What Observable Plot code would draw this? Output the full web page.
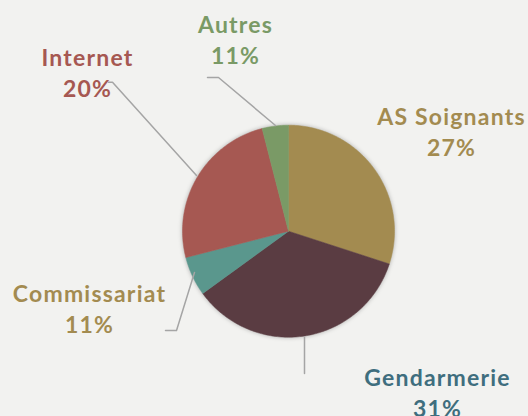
<!DOCTYPE html>
<html>
<head>
<meta charset="utf-8">
<script src="https://cdn.jsdelivr.net/npm/d3@7"></script>
<script src="https://cdn.jsdelivr.net/npm/@observablehq/plot@0.6"></script>
<style>
  html, body { margin: 0; padding: 0; background: #f2f2f0; }
  #chart svg { display: block; background: #f2f2f0; }
  g[aria-description="pie"] { filter: drop-shadow(0px 0px 2px rgba(0,0,0,0.28)); }
</style>
</head>
<body>
<div id="chart"></div>
<script>
// ---- data ----
const categories = ["AS Soignants", "Gendarmerie", "Commissariat", "Internet", "Autres"];
const sliceValues = [30, 35, 6, 25, 4];          // slice sizes as drawn
const percentLabels = ["27%", "31%", "11%", "20%", "11%"]; // label texts as printed

// ---- styles / layout ----
const sliceColors = ["#a38b50", "#5a3c42", "#5a978d", "#a65852", "#7a9a66"];
const labelColors = ["#a38b50", "#3f6e7e", "#a38b50", "#a65852", "#7a9a66"];
const W = 528, H = 416;
const cx = 288, cy = 230.7, R = 106;
// label anchor (center x, baseline of first line)
const labelPos = [[451, 124.5], [437, 385], [89, 301], [87, 65], [235, 32.3]];
const lineGap = 31;
// leader lines (polyline points)
const leaders = [
  [[304, 337], [304, 373]],
  [[165, 330], [176, 330], [194, 272]],
  [[108, 81.7], [112, 81.7], [196, 175]],
  [[207, 77], [218, 77], [275, 125]]
];

// build pie geometry from data with d3.pie
const arcs = d3.pie().sort(null).value(d => d.value)(
  categories.map((c, i) => ({category: c, value: sliceValues[i], color: sliceColors[i]}))
);
function slicePoints(a) {
  const base = {category: a.data.category, color: a.data.color};
  const pts = [{...base, x: cx, y: cy}];
  const n = Math.max(2, Math.ceil((a.endAngle - a.startAngle) / (Math.PI / 180)));
  for (let k = 0; k <= n; k++) {
    const t = a.startAngle + (a.endAngle - a.startAngle) * k / n;
    pts.push({...base, x: cx + R * Math.sin(t), y: cy - R * Math.cos(t)});
  }
  pts.push({...base, x: cx, y: cy});
  return pts;
}
const pieData = arcs.flatMap(slicePoints);

const leaderData = leaders.flatMap((pts, i) => pts.map(([x, y]) => ({x, y, id: i})));
const labelData = categories.map((c, i) => ({
  name: c, pct: percentLabels[i], x: labelPos[i][0], y: labelPos[i][1], color: labelColors[i]
}));

const font = "Lato, 'Open Sans', sans-serif";
const textStyle = {
  textAnchor: "middle", lineAnchor: "bottom",
  fontSize: 23, fontWeight: "bold", fontFamily: font
};

const chart = Plot.plot({
  width: W, height: H,
  margin: 0,
  style: {background: "#f2f2f0", overflow: "hidden", letterSpacing: "1.2px"},
  x: {domain: [0, W], range: [0, W], axis: null},
  y: {domain: [0, H], range: [0, H], axis: null},
  color: {type: "identity"},
  marks: [
    Plot.line(pieData, {
      x: "x", y: "y", z: "category", fill: "color", stroke: "color", strokeWidth: 0.5,
      curve: "linear", ariaDescription: "pie"
    }),
    Plot.line(leaderData, {x: "x", y: "y", z: "id", stroke: "#a5a5a5", strokeWidth: 1.5}),
    Plot.text(labelData, {x: "x", y: "y", text: "name", fill: "color", ...textStyle}),
    Plot.text(labelData, {x: "x", y: d => d.y + lineGap, text: "pct", fill: "color", ...textStyle})
  ]
});
document.getElementById("chart").appendChild(chart);
</script>
</body>
</html>
